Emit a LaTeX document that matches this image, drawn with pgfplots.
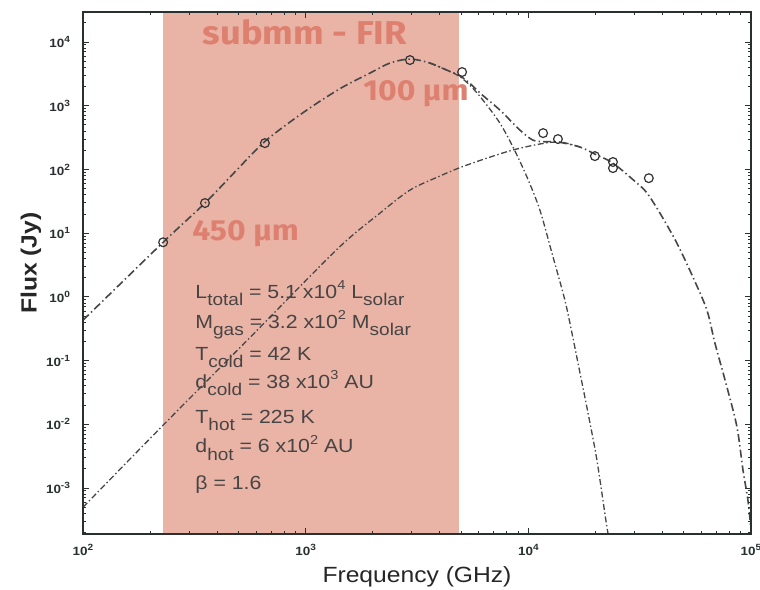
\documentclass[border=0pt]{standalone}
\usepackage{fontspec}
\setmainfont{Liberation Sans}[FakeStretch=1.12]
\newfontfamily\labfont{Fira Sans}[FakeStretch=1.1]
\usepackage{pgfplots}
\pgfplotsset{compat=1.18}
\definecolor{shade}{RGB}{233,180,166}
\definecolor{salmon}{RGB}{222,128,112}
\definecolor{partext}{RGB}{72,68,68}
\definecolor{curve}{RGB}{70,70,70}
\definecolor{axisc}{RGB}{40,48,48}
% tick label 10^n
\newcommand{\tl}[1]{10\raisebox{0.8ex}{\fontsize{4.5}{5}\selectfont\bfseries #1}}
% sub/superscripts in the parameter box
\newcommand{\lo}[1]{\raisebox{-0.75ex}{\fontsize{8.5}{9}\selectfont #1}}
\newcommand{\hi}[1]{\raisebox{0.85ex}{\fontsize{6.5}{7}\selectfont #1}}

\begin{document}
\begin{tikzpicture}
\begin{axis}[
  scale only axis, width=334pt, height=261pt,
  xmode=log, ymode=log,
  xmin=100, xmax=100000, ymin=1.9e-4, ymax=2.96e4,
  axis on top, clip=true,
  axis line style={axisc, line width=0.8pt},
  every tick/.style={axisc, line width=0.5pt},
  major tick length=3pt, minor tick length=1.6pt,
  xtick={100,1000,10000,100000},
  xticklabels={\tl{2},\tl{3},\tl{4},\tl{5}},
  ytick={1e-3,1e-2,1e-1,1,10,100,1000,10000},
  yticklabels={\tl{-3},\tl{-2},\tl{-1},\tl{0},\tl{1},\tl{2},\tl{3},\tl{4}},
  minor xtick={200,300,400,500,600,700,800,900,
    2000,3000,4000,5000,6000,7000,8000,9000,
    20000,30000,40000,50000,60000,70000,80000,90000},
  minor ytick={2e-4,3e-4,4e-4,5e-4,6e-4,7e-4,8e-4,9e-4,
    2e-3,3e-3,4e-3,5e-3,6e-3,7e-3,8e-3,9e-3,
    0.02,0.03,0.04,0.05,0.06,0.07,0.08,0.09,
    0.2,0.3,0.4,0.5,0.6,0.7,0.8,0.9,
    2,3,4,5,6,7,8,9,20,30,40,50,60,70,80,90,
    200,300,400,500,600,700,800,900,
    2000,3000,4000,5000,6000,7000,8000,9000,20000},
  xticklabel style={font=\fontsize{6}{7}\selectfont\bfseries, text=axisc, yshift=-1.5pt},
  yticklabel style={font=\fontsize{6}{7}\selectfont\bfseries, text=axisc, xshift=-3pt},
  xlabel={Frequency (GHz)}, ylabel={\bfseries Flux (Jy)},
  xlabel style={font=\fontsize{11}{13}\selectfont, text=black!85,
    at={(axis description cs:0.5,-0.0824)}, anchor=center},
  ylabel style={font=\fontsize{11}{13}\selectfont, text=black!85,
    at={(axis description cs:-0.0778,0.519)}, anchor=center},
]
% submm - FIR band
\addplot[fill=shade, draw=none] coordinates {(229,1.9e-4) (4900,1.9e-4) (4900,2.96e4) (229,2.96e4)} -- cycle;

\node[anchor=base, inner sep=0pt, font=\labfont\bfseries\fontsize{16.5}{18}\selectfont, text=salmon] at (rel axis cs:0.332,0.937) {submm - FIR};
\node[anchor=base west, inner sep=0pt, font=\labfont\bfseries\fontsize{14.5}{16}\selectfont, text=salmon] at (rel axis cs:0.419,0.831) {100 µm};
\node[anchor=base west, inner sep=0pt, font=\labfont\bfseries\fontsize{14.5}{16}\selectfont, text=salmon] at (rel axis cs:0.163,0.563) {450 µm};

\begin{scope}[every node/.style={anchor=base west, inner sep=0pt, font=\fontsize{9.5}{11}\selectfont, text=partext}]
\node at (rel axis cs:0.1677,0.4521) {L\lo{total} = 5.1 x10\hi{4} L\lo{solar}};
\node at (rel axis cs:0.1677,0.3946) {M\lo{gas} = 3.2 x10\hi{2} M\lo{solar}};
\node at (rel axis cs:0.1677,0.3333) {T\lo{cold} = 42 K};
\node at (rel axis cs:0.1677,0.2797) {d\lo{cold} = 38 x10\hi{3} AU};
\node at (rel axis cs:0.1677,0.2126) {T\lo{hot} = 225 K};
\node at (rel axis cs:0.1677,0.1552) {d\lo{hot} = 6 x10\hi{2} AU};
\node at (rel axis cs:0.1677,0.0843) {β = 1.6};
\end{scope}

% cold component (drawn where it leaves the total)
\addplot[curve, line width=0.65pt, smooth, dash pattern=on 3pt off 1.3pt on 0.7pt off 1.3pt] coordinates {
(3613,4680) (4446,3450)
(4932,2850) (5500,2050) (6250,1230) (7450,535) (8530,225) (9860,76)
(11270,23) (12760,4.9) (14590,0.89) (15700,0.27) (17060,0.064)
(18540,0.015) (20320,0.00274) (22540,2.43e-4) (23200,1.5e-4)};
% hot component (drawn until it joins the total)
\addplot[curve, line width=0.65pt, smooth, dash pattern=on 3pt off 1.3pt on 0.7pt off 1.3pt] coordinates {
(100,5.0e-4) (229,0.0097) (562,0.23) (1384,5.6) (2158,20.7) (2940,47.5)
(4010,79) (4932,107) (6310,145) (8430,200) (11270,251) (13870,270)
(17060,225)};
% total
\addplot[curve, line width=0.8pt, smooth, dash pattern=on 4pt off 1.6pt on 0.7pt off 1.6pt] coordinates {
(100,0.43) (229,7.2) (353,29.7) (476,88) (643,259) (850,555) (1125,1100)
(1470,1970) (1945,3260) (2393,4680) (2940,5410) (3613,4680) (4446,3450)
(4932,2950) (5500,2200) (6070,1580) (7450,857) (9160,416) (10500,288)
(12000,272) (13430,272) (17060,225) (20320,168) (23990,126) (30760,61)
(34120,42.6) (38990,20.7) (46450,7.0) (54830,2.05) (63390,0.62)
(68870,0.188) (77980,0.0384) (86500,0.00904) (92040,0.00191)
(96830,6.5e-4) (100000,2.2e-4)};
% measured fluxes
\addplot[only marks, mark=o, mark size=2.2pt, mark options={draw=black!80, line width=0.6pt}] coordinates {
(229,7.2) (353,29.7) (656,259) (2940,5210) (5040,3380) (11650,372)
(13580,300) (19900,162) (23990,131) (23990,105) (34750,73)};
\end{axis}
\pgfresetboundingbox
\path ([xshift=-41.5pt,yshift=-27.5pt]current axis.south west) rectangle ([xshift=4.5pt,yshift=6pt]current axis.north east);
\end{tikzpicture}
\end{document}
